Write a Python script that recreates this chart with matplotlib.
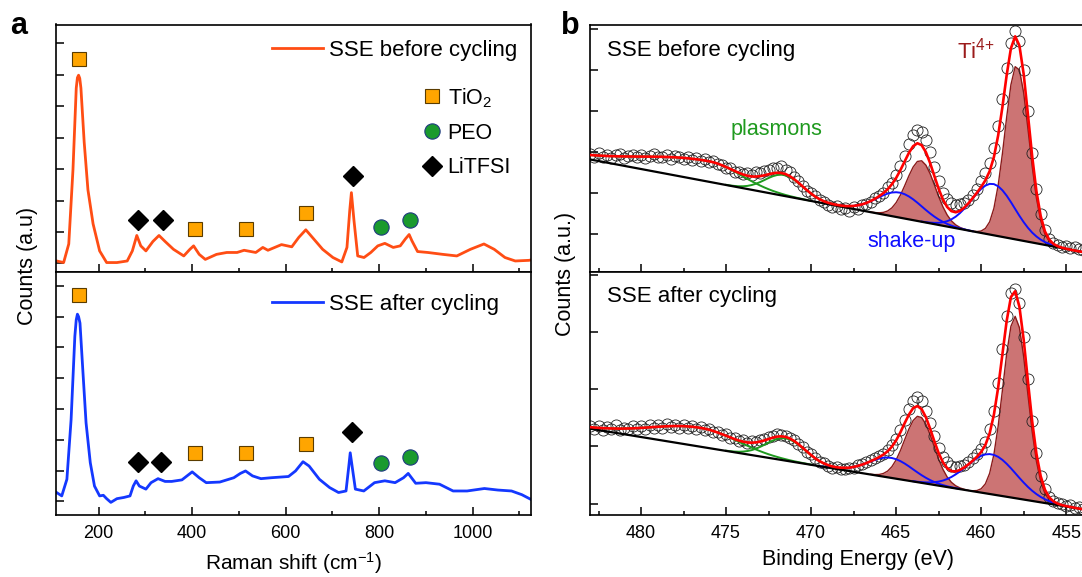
import numpy as np
import matplotlib
matplotlib.use("Agg")
import matplotlib.pyplot as plt
from matplotlib.lines import Line2D
from matplotlib.ticker import MultipleLocator

plt.rcParams['font.family'] = ['Liberation Sans', 'DejaVu Sans']
plt.rcParams['mathtext.fontset'] = 'custom'
plt.rcParams['mathtext.rm'] = 'Liberation Sans'
plt.rcParams['mathtext.it'] = 'Liberation Sans:italic'
plt.rcParams['mathtext.bf'] = 'Liberation Sans:bold'

# ---------------- panel a : Raman ----------------
raman_before_x = [110, 125, 136, 145, 152, 154.5, 157, 159.5, 162, 169, 177, 188,
                  202, 217, 239, 261, 272, 281.5, 290, 301, 316, 329,
                  342, 360, 382, 395, 403, 415, 428, 452, 474, 496,
                  511, 536, 551, 562, 591, 613, 628, 643, 657, 679,
                  701, 720, 731, 737, 740.5, 746, 754, 767.5, 782, 797,
                  812, 830, 845, 856, 864, 870, 882, 904, 936, 966,
                  995, 1024, 1046, 1069, 1091, 1120, 1124]
raman_before_y = [0.08, 0.03, 0.62, 2.98, 5.57, 5.90, 5.98, 5.88, 5.57, 3.85, 2.34, 1.26,
                  0.40, 0.03, 0.03, 0.08, 0.40, 0.89, 0.56, 0.40, 0.70, 0.89,
                  0.70, 0.45, 0.24, 0.45, 0.56, 0.29, 0.13, 0.29, 0.35, 0.35,
                  0.42, 0.35, 0.51, 0.42, 0.60, 0.53, 0.83, 1.07, 0.83, 0.45,
                  0.19, 0.05, 0.51, 1.69, 2.25, 1.37, 0.24, 0.19, 0.35, 0.56,
                  0.64, 0.51, 0.56, 0.78, 0.92, 0.72, 0.38, 0.35, 0.29, 0.24,
                  0.45, 0.62, 0.45, 0.19, 0.08, 0.10, 0.11]

raman_after_x = [110, 121, 132, 141, 149, 152, 154.5, 157, 160, 166, 173, 182,
                 191, 202, 210, 217, 226, 239, 254, 267, 274, 280,
                 287, 301, 312, 327, 342, 356, 378, 389, 400, 415,
                 430, 459, 489, 503, 514, 529, 547, 569, 606, 621,
                 637, 650, 672, 694, 713, 729, 735, 738, 743, 749,
                 767, 790, 812, 834, 852, 862, 878, 900, 929, 958,
                 988, 1025, 1054, 1083, 1105, 1124]
raman_after_y = [0.29, 0.18, 0.72, 2.66, 5.36, 5.90, 6.08, 6.00, 5.79, 4.28, 2.55, 1.26,
                 0.50, 0.18, 0.20, 0.09, -0.03, 0.09, 0.13, 0.18, 0.50, 0.67,
                 0.50, 0.40, 0.61, 0.74, 0.65, 0.65, 0.70, 0.83, 0.96, 0.77,
                 0.61, 0.63, 0.77, 0.91, 0.99, 0.83, 0.74, 0.77, 0.81, 0.99,
                 1.29, 1.15, 0.72, 0.45, 0.29, 0.34, 1.15, 1.58, 1.04, 0.40,
                 0.34, 0.61, 0.67, 0.61, 0.77, 0.91, 0.59, 0.61, 0.56, 0.34,
                 0.34, 0.42, 0.37, 0.34, 0.22, 0.07]

# band assignment markers (shift, height)
before_tio2_x, before_tio2_y = [158, 406, 516, 643], [6.50, 1.09, 1.09, 1.59]
before_litfsi_x, before_litfsi_y = [285, 338, 743], [1.39, 1.39, 2.79]
before_peo_x, before_peo_y = [804, 865], [1.17, 1.37]
after_tio2_x, after_tio2_y = [158, 406, 516, 643], [6.69, 1.58, 1.58, 1.88]
after_litfsi_x, after_litfsi_y = [285, 334, 742], [1.29, 1.29, 2.26]
after_peo_x, after_peo_y = [804, 865], [1.26, 1.44]

# ---------------- panel b : XPS Ti 2p ----------------
E_START, E_STEP, N_PTS = 483.0, 0.25, 117
energy = np.linspace(483.0, 454.0, N_PTS)

before_counts = [1.97, 1.90, 1.99, 1.88, 1.95, 1.87, 1.93, 1.96, 1.86, 1.92,
                 1.95, 1.89, 1.94, 1.86, 1.91, 1.97, 1.90, 1.88, 1.95, 1.85,
                 1.91, 1.88, 1.84, 1.90, 1.82, 1.86, 1.79, 1.83, 1.76, 1.78,
                 1.71, 1.70, 1.62, 1.63, 1.53, 1.52, 1.47, 1.50, 1.45, 1.52,
                 1.49, 1.55, 1.57, 1.63, 1.61, 1.66, 1.58, 1.52, 1.40, 1.30,
                 1.19, 1.07, 1.02, 0.93, 0.84, 0.80, 0.72, 0.66, 0.70, 0.61,
                 0.64, 0.58, 0.66, 0.62, 0.71, 0.74, 0.80, 0.88, 0.93, 1.02,
                 1.16, 1.26, 1.45, 1.66, 1.92, 2.20, 2.42, 2.55, 2.50, 2.30,
                 2.02, 1.64, 1.30, 1.02, 0.86, 0.77, 0.72, 0.74, 0.76, 0.85,
                 0.97, 1.12, 1.30, 1.50, 1.74, 2.10, 2.65, 3.30, 4.05, 4.68,
                 4.96, 4.72, 4.00, 3.02, 1.98, 1.12, 0.50, 0.12, -0.10, -0.22,
                 -0.26, -0.30, -0.27, -0.33, -0.31, -0.36, -0.38]
after_counts = [1.36, 1.31, 1.35, 1.29, 1.34, 1.30, 1.37, 1.29, 1.33, 1.31,
                1.36, 1.30, 1.35, 1.31, 1.38, 1.32, 1.37, 1.33, 1.39, 1.34,
                1.38, 1.33, 1.37, 1.32, 1.36, 1.31, 1.34, 1.28, 1.30, 1.25,
                1.26, 1.20, 1.21, 1.14, 1.15, 1.09, 1.11, 1.06, 1.09, 1.08,
                1.12, 1.13, 1.17, 1.19, 1.21, 1.20, 1.19, 1.15, 1.11, 1.04,
                0.99, 0.91, 0.86, 0.80, 0.73, 0.71, 0.66, 0.62, 0.64, 0.60,
                0.61, 0.63, 0.62, 0.67, 0.69, 0.72, 0.76, 0.79, 0.83, 0.87,
                0.93, 1.02, 1.13, 1.29, 1.47, 1.65, 1.80, 1.86, 1.80, 1.62,
                1.41, 1.18, 0.98, 0.82, 0.72, 0.66, 0.64, 0.65, 0.68, 0.73,
                0.79, 0.86, 0.95, 1.08, 1.30, 1.62, 2.10, 2.70, 3.28, 3.68,
                3.76, 3.50, 2.92, 2.18, 1.45, 0.88, 0.48, 0.25, 0.12, 0.05,
                0.01, -0.01, -0.04, -0.03, -0.07, -0.06, -0.09]

# linear background: value at 454 eV and at 483 eV
before_bg = [-0.43, 1.83]
after_bg = [-0.10, 1.31]

# fit components above background: (first energy, values every 0.25 eV)
before_comp = {
    'plasmon1': (483.0, [0.108, 0.120, 0.134, 0.148, 0.162, 0.178, 0.194, 0.211, 0.229, 0.247,
                         0.266, 0.284, 0.303, 0.322, 0.341, 0.359, 0.377, 0.395, 0.411, 0.427,
                         0.441, 0.454, 0.466, 0.476, 0.484, 0.491, 0.496, 0.499, 0.500, 0.496,
                         0.483, 0.463, 0.435, 0.403, 0.366, 0.327, 0.287, 0.248, 0.210, 0.176,
                         0.144, 0.116, 0.092, 0.071, 0.055, 0.041, 0.030, 0.022, 0.016, 0.011,
                         0.008, 0.005, 0.003]),
    'plasmon2': (475.0, [0.004, 0.008, 0.016, 0.028, 0.047, 0.075, 0.115, 0.166, 0.227, 0.295,
                         0.365, 0.428, 0.477, 0.505, 0.508, 0.485, 0.440, 0.378, 0.309, 0.240,
                         0.177, 0.124, 0.082, 0.052, 0.031, 0.018, 0.010, 0.005]),
    'shake1': (469.0, [0.004, 0.007, 0.012, 0.020, 0.032, 0.050, 0.075, 0.109, 0.152, 0.205,
                       0.266, 0.334, 0.404, 0.471, 0.530, 0.576, 0.603, 0.610, 0.594, 0.559,
                       0.508, 0.445, 0.376, 0.306, 0.241, 0.183, 0.134, 0.094, 0.064, 0.042,
                       0.027, 0.016, 0.010, 0.005, 0.003]),
    'shake2': (463.5, [0.005, 0.010, 0.018, 0.031, 0.052, 0.084, 0.130, 0.195, 0.279, 0.385,
                       0.510, 0.651, 0.800, 0.945, 1.074, 1.174, 1.235, 1.249, 1.216, 1.138,
                       1.025, 0.888, 0.740, 0.593, 0.458, 0.340, 0.242, 0.167, 0.110, 0.070,
                       0.043, 0.025, 0.014, 0.008, 0.004]),
    'ti_2p12': (466.5, [0.004, 0.010, 0.023, 0.052, 0.107, 0.202, 0.348, 0.550, 0.797, 1.061,
                        1.295, 1.450, 1.487, 1.400, 1.210, 0.957, 0.695, 0.463, 0.283, 0.158,
                        0.081, 0.038, 0.017, 0.007, 0.002]),
    'ti_2p32': (460.5, [0.004, 0.015, 0.047, 0.130, 0.310, 0.660, 1.240, 2.030, 2.940, 3.750,
                        4.210, 4.150, 3.610, 2.760, 1.860, 1.100, 0.575, 0.260, 0.107, 0.038,
                        0.012, 0.003]),
}
after_comp = {
    'plasmon1': (483.0, [0.027, 0.032, 0.039, 0.046, 0.055, 0.064, 0.075, 0.086, 0.099, 0.113,
                         0.127, 0.143, 0.159, 0.176, 0.193, 0.211, 0.228, 0.244, 0.260, 0.275,
                         0.289, 0.301, 0.311, 0.319, 0.325, 0.329, 0.330, 0.328, 0.322, 0.311,
                         0.298, 0.281, 0.262, 0.241, 0.218, 0.196, 0.173, 0.151, 0.130, 0.111,
                         0.093, 0.077, 0.063, 0.051, 0.041, 0.032, 0.025, 0.019, 0.014, 0.011,
                         0.008, 0.006, 0.004]),
    'plasmon2': (475.0, [0.004, 0.007, 0.013, 0.022, 0.037, 0.058, 0.086, 0.123, 0.167, 0.216,
                         0.267, 0.315, 0.355, 0.381, 0.390, 0.381, 0.355, 0.315, 0.267, 0.216,
                         0.167, 0.123, 0.086, 0.058, 0.037, 0.022, 0.013, 0.007, 0.004]),
    'shake1': (469.5, [0.002, 0.003, 0.006, 0.010, 0.017, 0.027, 0.040, 0.059, 0.084, 0.114,
                       0.149, 0.188, 0.229, 0.268, 0.303, 0.330, 0.346, 0.350, 0.341, 0.320,
                       0.290, 0.253, 0.212, 0.172, 0.134, 0.101, 0.073, 0.051, 0.034, 0.022,
                       0.014, 0.008, 0.005, 0.003]),
    'shake2': (464.0, [0.005, 0.008, 0.013, 0.021, 0.032, 0.049, 0.071, 0.101, 0.140, 0.188,
                       0.245, 0.310, 0.381, 0.454, 0.525, 0.590, 0.643, 0.680, 0.698, 0.696,
                       0.674, 0.633, 0.577, 0.511, 0.439, 0.366, 0.297, 0.233, 0.178, 0.132,
                       0.095, 0.066, 0.045, 0.029, 0.019, 0.012, 0.007, 0.004, 0.002]),
    'ti_2p12': (466.5, [0.004, 0.011, 0.025, 0.055, 0.109, 0.198, 0.329, 0.502, 0.704, 0.904,
                        1.066, 1.152, 1.142, 1.038, 0.866, 0.662, 0.465, 0.299, 0.176, 0.095,
                        0.047, 0.022, 0.009, 0.003]),
    'ti_2p32': (460.5, [0.008, 0.024, 0.067, 0.166, 0.363, 0.705, 1.212, 1.848, 2.499, 2.994,
                        3.180, 2.994, 2.499, 1.848, 1.212, 0.705, 0.363, 0.166, 0.067, 0.024,
                        0.008]),
}

ORANGE = '#ff4d14'
BLUE = '#1438ff'
SQ = dict(marker='s', ms=10, mfc='#ffa500', mec='#5a3c00', mew=0.8, ls='none')
CI = dict(marker='o', ms=11, mfc='#1a9a2e', mec='#1f3a80', mew=0.8, ls='none')
DI = dict(marker='D', ms=10.5, mfc='k', mec='k', ls='none')


def place(start, vals):
    out = np.zeros(N_PTS)
    i0 = int(round((E_START - start) / E_STEP))
    out[i0:i0 + len(vals)] = vals
    return out


def style_axes(ax, major, minor, labels):
    ax.xaxis.set_major_locator(MultipleLocator(major))
    ax.xaxis.set_minor_locator(MultipleLocator(minor))
    ax.yaxis.set_major_locator(MultipleLocator(1))
    ax.tick_params(which='major', direction='in', length=5.5, width=1.1,
                   labelsize=13, pad=7, top=False, right=False,
                   labelleft=False, labelbottom=labels)
    ax.tick_params(which='minor', direction='in', length=2.8, width=1.1,
                   top=False, right=False, left=False)
    for s in ax.spines.values():
        s.set_linewidth(1.2)


def draw_raman(ax, x, y, color, label, tio2, litfsi, peo, lg_y):
    ax.plot(x, y, color=color, lw=2.0)
    ax.plot(*tio2, **SQ)
    ax.plot(*litfsi, **DI)
    ax.plot(*peo, **CI)
    return ax.legend([Line2D([], [], color=color, lw=2.0)], [label],
                     loc='center left', bbox_to_anchor=(0.454, lg_y),
                     frameon=False, fontsize=16, borderpad=0, borderaxespad=0,
                     handlelength=2.3, handletextpad=0.3)


def draw_xps(ax, counts, bg, comp):
    base = np.interp(energy, [454.0, 483.0], bg)
    parts = {k: place(*v) for k, v in comp.items()}
    for k in ('ti_2p12', 'ti_2p32'):
        c = parts[k]
        m = c > 0
        ax.fill_between(energy[m], base[m], base[m] + c[m], color='#cc7474',
                        lw=0, zorder=1)
        ax.plot(energy[m], base[m] + c[m], color='#8b1a1a', lw=1.0, zorder=1.5)
    ax.plot(energy, counts, ls='none', marker='o', ms=8, mfc='none',
            mec='#222222', mew=0.6, zorder=2)
    for k, col in (('plasmon1', '#1f9a1f'), ('plasmon2', '#1f9a1f'),
                   ('shake1', '#1010ff'), ('shake2', '#1010ff')):
        c = parts[k]
        m = c > 0
        ax.plot(energy[m], base[m] + c[m], color=col, lw=1.4, zorder=3)
    ax.plot(energy, base, color='k', lw=1.6, zorder=3)
    env = base + sum(parts.values())
    ax.plot(energy, env, color='#ff0000', lw=1.9, zorder=4)


W, H = 1082, 577
fig = plt.figure(figsize=(W / 100, H / 100), dpi=100)


def px_axes(x0, x1, y0, y1):
    return fig.add_axes([x0 / W, 1 - y1 / H, (x1 - x0) / W, (y1 - y0) / H])


ax_a1 = px_axes(56, 530.7, 24.5, 272)
ax_a2 = px_axes(56, 530.7, 272, 515)
ax_b1 = px_axes(590, 1090, 24.5, 272)
ax_b2 = px_axes(590, 1090, 272, 515)

line_leg = draw_raman(ax_a1, raman_before_x, raman_before_y, ORANGE, 'SSE before cycling',
                      (before_tio2_x, before_tio2_y), (before_litfsi_x, before_litfsi_y),
                      (before_peo_x, before_peo_y), 0.894)
draw_raman(ax_a2, raman_after_x, raman_after_y, BLUE, 'SSE after cycling',
           (after_tio2_x, after_tio2_y), (after_litfsi_x, after_litfsi_y),
           (after_peo_x, after_peo_y), 0.8675)

mk = [Line2D([], [], **SQ), Line2D([], [], **CI), Line2D([], [], **DI)]
ax_a1.legend(mk, ['TiO$_2$', 'PEO', 'LiTFSI'], loc='center left',
             bbox_to_anchor=(0.773, 0.565), frameon=False, fontsize=15.5,
             borderpad=0, borderaxespad=0, handlelength=0.8,
             handletextpad=0.35, labelspacing=0.62)
ax_a1.add_artist(line_leg)

for ax in (ax_a1, ax_a2):
    ax.set_xlim(108.7, 1124)
ax_a1.set_ylim(-0.27, 7.59)
ax_a2.set_ylim(-0.44, 7.45)
style_axes(ax_a1, 200, 100, False)
style_axes(ax_a2, 200, 100, True)

draw_xps(ax_b1, before_counts, before_bg, before_comp)
draw_xps(ax_b2, after_counts, after_bg, after_comp)
for ax in (ax_b1, ax_b2):
    ax.set_xlim(483.0, 453.6)
ax_b1.set_ylim(-0.915, 5.12)
ax_b2.set_ylim(-0.20, 4.05)
style_axes(ax_b1, 5, 2.5, False)
style_axes(ax_b2, 5, 2.5, True)

fig.text(607 / W, 1 - 55.7 / H, 'SSE before cycling', fontsize=16, va='baseline')
fig.text(607 / W, 1 - 301.6 / H, 'SSE after cycling', fontsize=16, va='baseline')
fig.text(731 / W, 1 - 135 / H, 'plasmons', fontsize=15.5, color='#1f9a1f', va='baseline')
fig.text(867 / W, 1 - 247 / H, 'shake-up', fontsize=15.5, color='#1010ff', va='baseline')
fig.text(957 / W, 1 - 58 / H, 'Ti$^{4{+}}$', fontsize=16, color='#9b1b1b', va='baseline')

fig.text(10 / W, 1 - 34.5 / H, 'a', fontsize=22, fontweight='bold', va='baseline')
fig.text(561 / W, 1 - 34.3 / H, 'b', fontsize=22, fontweight='bold', va='baseline')
fig.text(28 / W, 1 - 266 / H, 'Counts (a.u)', fontsize=15.5, rotation=90,
         ha='center', va='center')
fig.text(565 / W, 1 - 274 / H, 'Counts (a.u.)', fontsize=15.5, rotation=90,
         ha='center', va='center')
fig.text(293 / W, 1 - 570 / H, 'Raman shift (cm$^{-1}$)', fontsize=15,
         ha='center', va='baseline')
fig.text(858 / W, 1 - 565 / H, 'Binding Energy (eV)', fontsize=15.5,
         ha='center', va='baseline')

fig.savefig('out.png', dpi=100)
